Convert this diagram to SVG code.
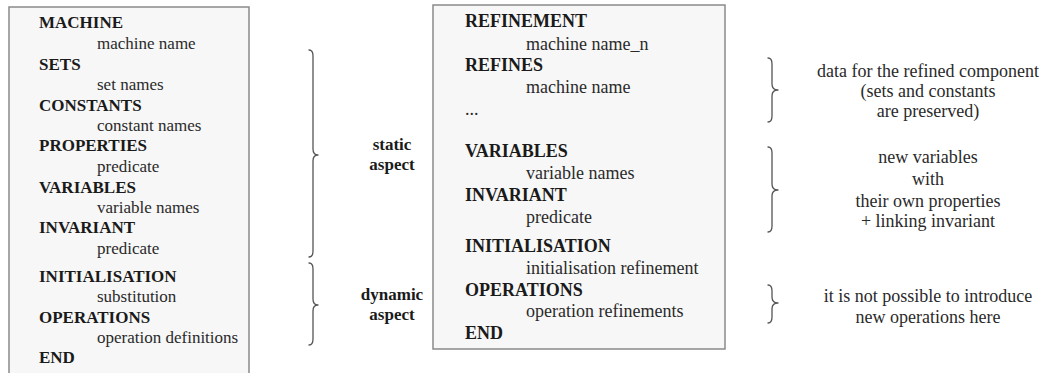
<svg xmlns="http://www.w3.org/2000/svg" width="1047" height="373" viewBox="0 0 1047 373">
<style>
.box{fill:#f7f7f7;stroke:#8a8a8a;stroke-width:1.5}
.k{font-family:"Liberation Serif","Times New Roman",serif;font-weight:bold;fill:#1a1a1a}
.v{font-family:"Liberation Serif","Times New Roman",serif;fill:#2a2a2a}
.s17{font-size:17px}
.s18{font-size:18px}
.brace{fill:none;stroke:#555;stroke-width:1.3;stroke-linecap:round;stroke-linejoin:round}
.c{text-anchor:middle}
</style>
<rect width="1047" height="373" fill="#ffffff"/>

<g id="machine">
<rect class="box" x="9" y="7" width="240" height="370"/>
<text class="k s17" x="39" y="28">MACHINE</text>
<text class="v s17" x="97" y="49">machine name</text>
<text class="k s17" x="39" y="69.5">SETS</text>
<text class="v s17" x="97" y="90">set names</text>
<text class="k s17" x="39" y="110.5">CONSTANTS</text>
<text class="v s17" x="97" y="131">constant names</text>
<text class="k s17" x="39" y="151">PROPERTIES</text>
<text class="v s17" x="97" y="172">predicate</text>
<text class="k s17" x="39" y="192.5">VARIABLES</text>
<text class="v s17" x="97" y="213">variable names</text>
<text class="k s17" x="39" y="233">INVARIANT</text>
<text class="v s17" x="97" y="254">predicate</text>
<text class="k s17" x="39" y="282">INITIALISATION</text>
<text class="v s17" x="97" y="302">substitution</text>
<text class="k s17" x="39" y="323">OPERATIONS</text>
<text class="v s17" x="97" y="343">operation definitions</text>
<text class="k s17" x="39" y="363">END</text>
</g>

<g id="refinement">
<rect class="box" x="433" y="5" width="292" height="344"/>
<text class="k s18" x="465" y="27">REFINEMENT</text>
<text class="v s18" x="526" y="50">machine name_n</text>
<text class="k s18" x="465" y="71">REFINES</text>
<text class="v s18" x="526" y="93">machine name</text>
<text class="v s18" x="465" y="115">...</text>
<text class="k s18" x="465" y="157">VARIABLES</text>
<text class="v s18" x="526" y="179">variable names</text>
<text class="k s18" x="465" y="201">INVARIANT</text>
<text class="v s18" x="526" y="223">predicate</text>
<text class="k s18" x="465" y="252">INITIALISATION</text>
<text class="v s18" x="526" y="274">initialisation refinement</text>
<text class="k s18" x="465" y="296">OPERATIONS</text>
<text class="v s18" x="526" y="317">operation refinements</text>
<text class="k s18" x="465" y="339">END</text>
</g>

<g id="braces">
<path class="brace" d="M309,50 Q313,50 313,56 L313,149 Q313,155 318,155 Q313,155 313,161 L313,251 Q313,257 309,257"/>
<path class="brace" d="M309,263 Q313,263 313,269 L313,299 Q313,305 318,305 Q313,305 313,311 L313,339 Q313,345 309,345"/>
<path class="brace" d="M768,58 Q772,58 772,64 L772,84 Q772,90 778,90 Q772,90 772,96 L772,116 Q772,122 768,122"/>
<path class="brace" d="M768,147 Q772,147 772,153 L772,184 Q772,190 778,190 Q772,190 772,196 L772,226 Q772,232 768,232"/>
<path class="brace" d="M768,285 Q772,285 772,291 L772,297 Q772,303 778,303 Q772,303 772,309 L772,317 Q772,323 768,323"/>
</g>

<g id="static-aspect">
<text class="k s17 c" x="392" y="150">static</text>
<text class="k s17 c" x="392" y="170">aspect</text>
</g>
<g id="dynamic-aspect">
<text class="k s17 c" x="392" y="300">dynamic</text>
<text class="k s17 c" x="392" y="320">aspect</text>
</g>

<g id="note-data">
<text class="v s18 c" x="928" y="77">data for the refined component</text>
<text class="v s18 c" x="928" y="97">(sets and constants</text>
<text class="v s18 c" x="928" y="117">are preserved)</text>
</g>
<g id="note-variables">
<text class="v s18 c" x="928" y="163">new variables</text>
<text class="v s18 c" x="928" y="185">with</text>
<text class="v s18 c" x="928" y="207">their own properties</text>
<text class="v s18 c" x="928" y="227">+  linking invariant</text>
</g>
<g id="note-operations">
<text class="v s18 c" x="928" y="302">it is not possible to introduce</text>
<text class="v s18 c" x="928" y="323">new operations here</text>
</g>
</svg>
